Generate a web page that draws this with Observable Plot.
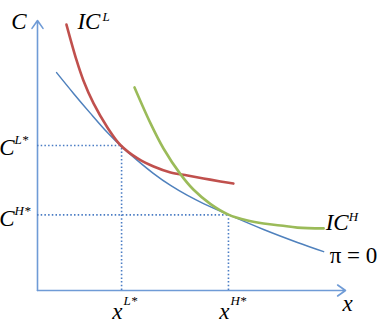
<!DOCTYPE html>
<html>
<head>
<meta charset="utf-8">
<script src="https://cdn.jsdelivr.net/npm/d3@7"></script>
<script src="https://cdn.jsdelivr.net/npm/@observablehq/plot@0.6"></script>
<style>
  html, body { margin: 0; padding: 0; background: #fff; }
  #chart { width: 379px; height: 326px; }
  #chart svg text { font-family: "Liberation Serif", "Times New Roman", serif !important; }
</style>
</head>
<body>
<div id="chart"></div>
<script>
// Curves (x, C in arbitrary units 0..10)
const zeroProfitX = [0.62, 1.17, 1.72, 2.27, 2.69, 3.25, 3.77, 4.32, 4.87, 5.39, 6.20, 7.34, 8.44, 9.29];
const zeroProfitC = [8.07, 7.30, 6.56, 5.85, 5.37, 4.81, 4.33, 3.89, 3.52, 3.22, 2.81, 2.26, 1.78, 1.44];
const icLowX = [0.94, 1.27, 1.49, 1.82, 2.27, 2.69, 3.25, 3.77, 4.32, 4.87, 5.39, 5.94, 6.36];
const icLowC = [9.85, 8.52, 7.78, 6.93, 6.04, 5.39, 4.89, 4.59, 4.37, 4.26, 4.15, 4.04, 3.96];
const icHighX = [3.15, 3.67, 4.09, 4.64, 5.06, 5.62, 6.20, 6.82, 7.34, 7.89, 8.44, 9.29];
const icHighC = [7.52, 6.19, 5.26, 4.31, 3.74, 3.20, 2.81, 2.59, 2.48, 2.41, 2.33, 2.30];

// Optimal contracts
const optimumX = [2.73, 6.20];   // x^L*, x^H*
const optimumC = [5.37, 2.80];   // C^L*, C^H*

// Label texts
const axisLabels = ["C", "x"];
const optimumNames = ["L*", "H*"];
const curveNames = ["IC", "L", "IC", "H", "π = 0"];

const pts = (xs, ys) => xs.map((x, i) => ({x, y: ys[i]}));
const blue = "#4f81bd", red = "#c0504d", green = "#9bbb59", axisCol = "#6f9bd6", dotCol = "#4a7cc4";
const big = 23, small = 13;
const serif = "Liberation Serif, serif";

const opt = optimumX.map((x, i) => ({x, c: optimumC[i], name: optimumNames[i]}));
const blueEnd = pts(zeroProfitX, zeroProfitC).at(-1);
const redStart = pts(icLowX, icLowC)[0];
const greenEnd = pts(icHighX, icHighC).at(-1);

function txt(data, o) {
  return Plot.text(data, {fontFamily: serif, fontStyle: "italic", lineAnchor: "bottom", fill: "#000", ...o});
}

const chart = Plot.plot({
  width: 379,
  height: 326,
  marginLeft: 37,
  marginRight: 34,
  marginTop: 20,
  marginBottom: 36,
  x: {domain: [0, 10], axis: null},
  y: {domain: [0, 10], axis: null},
  style: {background: "#fff", overflow: "visible", fontFamily: serif},
  marks: [
    // axes with arrowheads
    Plot.arrow([{x1: 0, y1: 0, x2: 0, y2: 10}, {x1: 0, y1: 0, x2: 10, y2: 0}],
      {x1: "x1", y1: "y1", x2: "x2", y2: "y2", stroke: axisCol, strokeWidth: 1.6, headLength: 9, headAngle: 70}),
    // dotted guides
    Plot.ruleY(opt, {y: "c", x1: 0, x2: "x", stroke: dotCol, strokeWidth: 1.6, strokeDasharray: "1.5,2.2"}),
    Plot.ruleX(opt, {x: "x", y1: 0, y2: "c", stroke: dotCol, strokeWidth: 1.6, strokeDasharray: "1.5,2.2"}),
    // curves
    Plot.line(pts(zeroProfitX, zeroProfitC), {x: "x", y: "y", stroke: blue, strokeWidth: 1.5, curve: "catmull-rom"}),
    Plot.line(pts(icLowX, icLowC), {x: "x", y: "y", stroke: red, strokeWidth: 2.6, curve: "catmull-rom"}),
    Plot.line(pts(icHighX, icHighC), {x: "x", y: "y", stroke: green, strokeWidth: 2.6, curve: "catmull-rom"}),
    // axis names
    txt([{x: 0, y: 10}], {x: "x", y: "y", text: () => axisLabels[0], textAnchor: "end", dx: -11, dy: 8, fontSize: big}),
    txt([{x: 10, y: 0}], {x: "x", y: "y", text: () => axisLabels[1], textAnchor: "start", dx: -3, dy: 20, fontSize: big}),
    // C^L*
    txt([opt[0]], {x: 0, y: "c", text: () => "C", textAnchor: "end", dx: -23, dy: 9, fontSize: big}),
    txt([opt[0]], {x: 0, y: "c", text: "name", textAnchor: "start", dx: -23, dy: -2, fontSize: small}),
    // C^H*
    txt([opt[1]], {x: 0, y: "c", text: () => "C", textAnchor: "end", dx: -23, dy: 11, fontSize: big}),
    txt([opt[1]], {x: 0, y: "c", text: "name", textAnchor: "start", dx: -23, dy: 0, fontSize: small}),
    // x^L*, x^H*
    txt(opt, {x: "x", y: 0, text: () => "x", textAnchor: "end", dx: 1, dy: 28, fontSize: big}),
    txt(opt, {x: "x", y: 0, text: "name", textAnchor: "start", dx: 2, dy: 14, fontSize: small}),
    // IC^L
    txt([redStart], {x: "x", y: "y", text: () => curveNames[0], textAnchor: "start", dx: 11, dy: 4, fontSize: big}),
    txt([redStart], {x: "x", y: "y", text: () => curveNames[1], textAnchor: "start", dx: 36, dy: -4, fontSize: small}),
    // IC^H
    txt([greenEnd], {x: "x", y: "y", text: () => curveNames[2], textAnchor: "start", dx: 2, dy: 2, fontSize: big}),
    txt([greenEnd], {x: "x", y: "y", text: () => curveNames[3], textAnchor: "start", dx: 25, dy: -7, fontSize: small}),
    // π = 0
    txt([blueEnd], {x: "x", y: "y", text: () => curveNames[4], textAnchor: "start", dx: 6, dy: 11, fontSize: big, fontStyle: "normal"})
  ]
});
document.getElementById("chart").appendChild(chart);
</script>
</body>
</html>
